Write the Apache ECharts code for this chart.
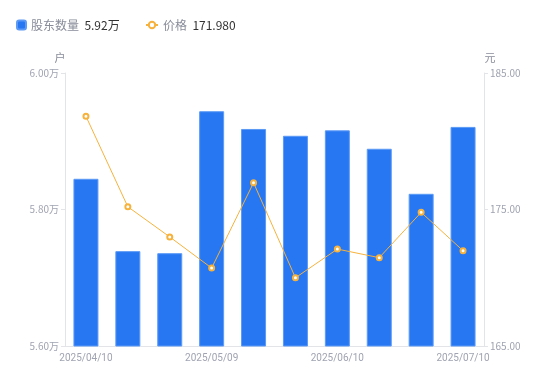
<!DOCTYPE html>
<html><head><meta charset="utf-8">
<script src="https://cdn.jsdelivr.net/npm/echarts@6/dist/echarts.min.js"></script>
<style>html,body{margin:0;padding:0;background:#fff}#c{width:550px;height:381px}</style>
</head><body><div id="c"></div>
<script>
const categories = ['2025/04/10','2025/04/18','2025/04/30','2025/05/09','2025/05/20','2025/05/30','2025/06/10','2025/06/20','2025/06/30','2025/07/10'];
const holders = [5.845, 5.739, 5.736, 5.944, 5.918, 5.908, 5.916, 5.889, 5.823, 5.921];
const prices = [181.83, 175.2, 172.99, 170.71, 176.96, 170.0, 172.1, 171.47, 174.79, 171.98];
const leftTicks = [5.60, 6.00];
const rightTicks = [165, 185];

const chart = echarts.init(document.getElementById('c'));
const lastH = holders[holders.length-1];
const lastP = prices[prices.length-1];
const legendText = {rich: {a: {color: '#888c99', fontSize: 12}, b: {color: '#333', fontSize: 12}}};
chart.setOption({
  animation: false,
  textStyle: {fontFamily: '"Noto Sans CJK SC", "Noto Sans", sans-serif'},
  legend: [{
    left: 11, top: 14, itemWidth: 9, itemHeight: 9,
    data: [{name: '股东数量', icon: 'roundRect'}],
    formatter: n => '{a|' + n + '}  {b|' + lastH.toFixed(2) + '万}',
    textStyle: legendText
  }, {
    left: 140, top: 14, itemWidth: 12, itemHeight: 8,
    data: [{name: '价格'}],
    formatter: n => '{a|' + n + '}  {b|' + lastP.toFixed(3) + '}',
    textStyle: legendText
  }],
  grid: {left: 65, right: 66, top: 73, bottom: 35},
  xAxis: {
    type: 'category', data: categories,
    axisLine: {lineStyle: {color: '#e3e4e8'}},
    axisTick: {show: false},
    axisLabel: {color: '#a0a3b1', fontSize: 10, interval: 2, margin: 7, fontFamily: 'Roboto, sans-serif'}
  },
  yAxis: [{
    type: 'value', min: leftTicks[0], max: leftTicks[1], interval: 0.2,
    name: '户', nameTextStyle: {color: '#888c99', fontSize: 11, padding: [0, 10, 0, 0]}, nameGap: 10,
    axisLine: {show: true, lineStyle: {color: '#e3e4e8'}},
    axisTick: {show: true, length: 4, lineStyle: {color: '#e3e4e8'}},
    splitLine: {show: false},
    axisLabel: {color: '#a0a3b1', fontSize: 10, margin: 6, formatter: v => v.toFixed(2) + '万'}
  }, {
    type: 'value', min: rightTicks[0], max: rightTicks[1], interval: 10,
    name: '元', nameTextStyle: {color: '#888c99', fontSize: 11, padding: [0, 0, 0, 12]}, nameGap: 10,
    axisLine: {show: true, lineStyle: {color: '#e3e4e8'}},
    axisTick: {show: true, length: 4, lineStyle: {color: '#e3e4e8'}},
    splitLine: {show: false},
    axisLabel: {color: '#a0a3b1', fontSize: 10, margin: 6, formatter: v => v.toFixed(2)}
  }],
  series: [{
    name: '股东数量', type: 'bar', data: holders, yAxisIndex: 0, barWidth: 25,
    itemStyle: {color: '#2777f3', borderColor: '#5c9af6', borderWidth: 1}
  }, {
    name: '价格', type: 'line', data: prices, yAxisIndex: 1,
    symbol: 'emptyCircle', symbolSize: 5,
    lineStyle: {color: '#f6b23c', width: 1},
    itemStyle: {color: '#f6b23c', borderWidth: 2}
  }]
});
</script></body></html>
